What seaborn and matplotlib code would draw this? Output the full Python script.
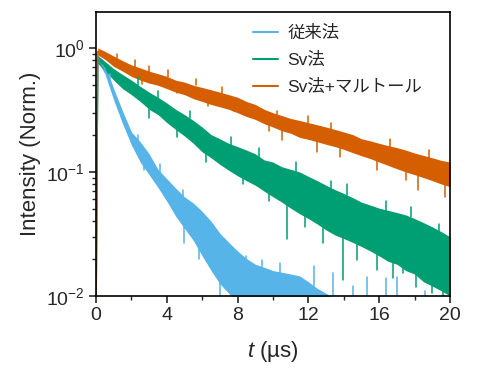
import pandas as pd
import seaborn as sns
import matplotlib.pyplot as plt
from matplotlib.ticker import MultipleLocator

# time axis (us)
t = [0.0, 0.1, 0.5, 1.0, 1.5, 2.0, 2.5, 3.0, 3.5, 4.0, 4.5, 5.0, 5.5, 6.0, 6.5, 7.0,
     7.5, 8.0, 8.5, 9.0, 9.5, 10.0, 10.5, 11.0, 11.5, 12.0, 12.5, 13.0, 13.5, 14.0,
     14.5, 15.0, 15.5, 16.0, 16.5, 17.0, 17.5, 18.0, 18.5, 19.0, 19.5, 20.0]

# upper / lower edges of the noisy traces
conv_hi = [0.005, 0.88, 0.74, 0.47, 0.31, 0.21, 0.175, 0.14, 0.105, 0.088, 0.074, 0.063, 0.056,
           0.048, 0.040, 0.032, 0.027, 0.023, 0.020, 0.018, 0.017, 0.016, 0.0155, 0.015, 0.0145,
           0.013, 0.0115, 0.0105, 0.0095, 0.009, 0.0095, 0.0085, 0.0095, 0.008, 0.0095, 0.0085,
           0.009, 0.0075, 0.007, 0.007, 0.0065, 0.006]
conv_lo = [0.005, 0.78, 0.62, 0.38, 0.245, 0.165, 0.12, 0.095, 0.075, 0.058, 0.044, 0.035, 0.028,
           0.021, 0.016, 0.0125, 0.0105, 0.0085, 0.007, 0.006, 0.0055, 0.005, 0.005, 0.0045, 0.0045,
           0.004, 0.004, 0.004, 0.004, 0.004, 0.004, 0.004, 0.004, 0.004, 0.004, 0.004,
           0.004, 0.004, 0.004, 0.004, 0.004, 0.004]

sv_hi = [0.005, 0.87, 0.78, 0.68, 0.61, 0.55, 0.49, 0.44, 0.40, 0.36, 0.32, 0.29, 0.26, 0.23,
         0.20, 0.185, 0.17, 0.16, 0.15, 0.14, 0.125, 0.12, 0.11, 0.105, 0.10, 0.092, 0.085, 0.078,
         0.072, 0.067, 0.062, 0.057, 0.054, 0.051, 0.049, 0.047, 0.045, 0.042, 0.039, 0.036,
         0.033, 0.030]
sv_lo = [0.005, 0.75, 0.66, 0.55, 0.47, 0.42, 0.37, 0.32, 0.29, 0.25, 0.22, 0.195, 0.17, 0.145,
         0.13, 0.115, 0.103, 0.093, 0.085, 0.078, 0.070, 0.063, 0.057, 0.051, 0.046, 0.042, 0.038,
         0.034, 0.031, 0.029, 0.027, 0.025, 0.023, 0.021, 0.019, 0.018, 0.016, 0.015, 0.013,
         0.012, 0.011, 0.010]

svm_hi = [0.005, 1.0, 0.94, 0.86, 0.79, 0.73, 0.69, 0.65, 0.62, 0.59, 0.55, 0.53, 0.50, 0.48,
          0.46, 0.44, 0.42, 0.40, 0.37, 0.35, 0.32, 0.30, 0.285, 0.27, 0.26, 0.25, 0.24, 0.23,
          0.22, 0.21, 0.20, 0.185, 0.178, 0.17, 0.163, 0.157, 0.15, 0.142, 0.136, 0.13, 0.124, 0.12]
svm_lo = [0.005, 0.88, 0.81, 0.71, 0.65, 0.59, 0.55, 0.52, 0.50, 0.47, 0.44, 0.42, 0.39, 0.37,
          0.35, 0.335, 0.32, 0.30, 0.28, 0.265, 0.245, 0.23, 0.215, 0.205, 0.19, 0.183, 0.175, 0.167,
          0.16, 0.152, 0.143, 0.135, 0.128, 0.12, 0.113, 0.106, 0.10, 0.095, 0.09, 0.085, 0.08, 0.076]

# single noise spikes sticking out of the traces: time, start, tip
conv_spk_t = [0.8, 2.4, 2.7, 3.6, 4.9, 4.97, 5.8, 6.63, 7.0, 8.5, 9.4, 10.4, 12.3, 13.4,
              14.5, 15.3, 16.4, 17.0, 18.6]
conv_spk_a = [0.56, 0.17, 0.13, 0.10, 0.06, 0.04, 0.03, 0.033, 0.015, 0.018, 0.016, 0.015, 0.012,
              0.009, 0.009, 0.009, 0.009, 0.009, 0.009]
conv_spk_b = [0.62, 0.20, 0.104, 0.115, 0.072, 0.0267, 0.020, 0.0375, 0.009, 0.0208, 0.0195,
              0.0183, 0.0175, 0.0152, 0.012, 0.0143, 0.014, 0.0143, 0.011]

sv_spk_t = [2.4, 3.0, 3.5, 4.6, 5.3, 6.2, 7.6, 8.3, 9.2, 9.8, 10.81, 11.3, 11.8, 12.84, 13.3,
            13.97, 14.16, 14.73, 15.86, 16.4, 16.8, 17.35, 17.8, 18.1, 19.0, 19.4, 19.6]
sv_spk_a = [0.50, 0.32, 0.38, 0.23, 0.27, 0.15, 0.16, 0.095, 0.13, 0.072, 0.06, 0.10, 0.047,
            0.038, 0.07, 0.03, 0.065, 0.028, 0.023, 0.048, 0.02, 0.018, 0.043, 0.015, 0.012,
            0.033, 0.011]
sv_spk_b = [0.58, 0.27, 0.45, 0.19, 0.31, 0.12, 0.19, 0.08, 0.155, 0.058, 0.029, 0.12, 0.036,
            0.0266, 0.085, 0.0135, 0.08, 0.0195, 0.0162, 0.058, 0.014, 0.0154, 0.052, 0.0119,
            0.0106, 0.038, 0.009]

svm_spk_t = [1.2, 2.2, 2.6, 3.0, 4.05, 4.6, 5.65, 6.3, 7.1, 7.8, 9.8, 10.2, 10.5, 12.0, 12.5,
             13.3, 13.8, 15.9, 16.6, 17.5, 18.2, 18.8, 19.7]
svm_spk_a = [0.80, 0.70, 0.58, 0.62, 0.58, 0.47, 0.50, 0.38, 0.42, 0.34, 0.25, 0.28, 0.22, 0.24,
             0.18, 0.22, 0.16, 0.13, 0.16, 0.11, 0.10, 0.13, 0.09]
svm_spk_b = [0.90, 0.80, 0.51, 0.72, 0.66, 0.43, 0.56, 0.34, 0.48, 0.31, 0.215, 0.31, 0.181, 0.28,
             0.146, 0.25, 0.133, 0.104, 0.185, 0.086, 0.072, 0.15, 0.063]

labels = ["従来法", "Sv法", "Sv法+マルトール"]
colors = ["#56B4E9", "#009E73", "#D55E00"]

rows = []
for lab, hi, lo in zip(labels, [conv_hi, sv_hi, svm_hi], [conv_lo, sv_lo, svm_lo]):
    for ti, a, b in zip(t, hi, lo):
        rows.append((ti, a, lab))
        rows.append((ti, b, lab))
df = pd.DataFrame(rows, columns=["t", "I", "sample"])

spk = []
spikes = [(conv_spk_t, conv_spk_a, conv_spk_b), (sv_spk_t, sv_spk_a, sv_spk_b),
          (svm_spk_t, svm_spk_a, svm_spk_b)]
for lab, (st, sa, sb) in zip(labels, spikes):
    for i, (ti, a, b) in enumerate(zip(st, sa, sb)):
        spk.append((ti, a, lab, lab + str(i)))
        spk.append((ti, b, lab, lab + str(i)))
df_spk = pd.DataFrame(spk, columns=["t", "I", "sample", "id"])

sns.set_style("ticks")
plt.rcParams["font.family"] = ["Liberation Sans", "Noto Sans CJK JP"]
plt.rcParams["mathtext.fontset"] = "custom"
plt.rcParams["mathtext.rm"] = "Liberation Sans"
plt.rcParams["mathtext.it"] = "Liberation Sans:italic"

fig, ax = plt.subplots(figsize=(5, 3.75), dpi=100)
fig.subplots_adjust(left=0.192, right=0.9, top=0.968, bottom=0.211)
ax.set_yscale("log")

for lab, col in zip(labels, colors):
    sns.lineplot(data=df[df["sample"] == lab], x="t", y="I", color=col, label=lab,
                 errorbar=("pi", 100), err_kws={"alpha": 1, "linewidth": 0},
                 linewidth=1, ax=ax)
    sns.lineplot(data=df_spk[df_spk["sample"] == lab], x="t", y="I", units="id",
                 estimator=None, color=col, linewidth=1.1, ax=ax, legend=False)

ax.set_xlim(0, 20)
ax.set_ylim(0.01, 1.95)
ax.xaxis.set_major_locator(MultipleLocator(4))
ax.xaxis.set_minor_locator(MultipleLocator(2))
ax.tick_params(which="major", direction="out", length=5, width=1.2, labelsize=14, pad=3)
ax.tick_params(which="minor", direction="out", length=3, width=1)
for s in ax.spines.values():
    s.set_linewidth(1.2)
    s.set_color("black")

ax.set_xlabel("$t$ (µs)", fontsize=16, labelpad=11)
ax.set_ylabel("Intensity (Norm.)", fontsize=16, labelpad=4)

leg = ax.legend(loc="upper left", bbox_to_anchor=(0.40, 1.01), frameon=False,
                fontsize=12.5, handlelength=1.4, handletextpad=0.55, labelspacing=0.62)
for line in leg.get_lines():
    line.set_linewidth(1.5)

plt.savefig("out.png", dpi=100)
